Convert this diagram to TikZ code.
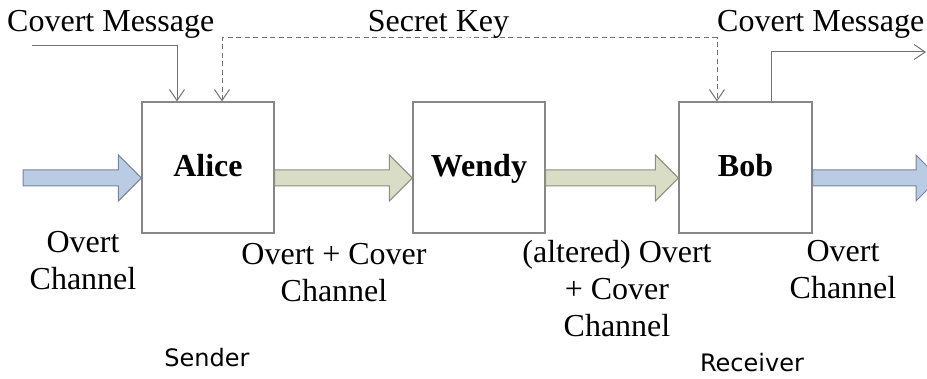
\documentclass[tikz,border=0pt]{standalone}
\usepackage{fontspec}
\setmainfont{Liberation Serif}
\newfontfamily\dejavu{DejaVu Sans}
\usepackage{tikz}
\usetikzlibrary{arrows.meta}
\usetikzlibrary{calc}
\definecolor{boxgray}{RGB}{135,135,135}
\definecolor{linegray}{RGB}{115,115,115}
\definecolor{chanblue}{RGB}{186,204,228}
\definecolor{chanblueb}{RGB}{120,132,155}
\definecolor{changreen}{RGB}{217,221,197}
\definecolor{changreenb}{RGB}{138,143,126}
\tikzset{
  box_n/.style = {draw=boxgray, line width=1.2pt, minimum width=132pt,
    minimum height=131pt, inner sep=0pt, text height=19pt, text depth=0pt,
    font=\fontsize{32}{37}\selectfont\bfseries},% party box
  arr_b/.style = {draw=chanblueb, fill=chanblue, line width=1pt},% overt channel
  arr_g/.style = {draw=changreenb, fill=changreen, line width=1pt},% overt + cover channel
  wire/.style = {draw=linegray, line width=1pt},
  lbl/.style = {inner sep=0pt, align=center,
    font=\fontsize{32}{37}\selectfont},
  lbl_s/.style = {inner sep=0pt, font=\dejavu\fontsize{24}{28}\selectfont}
}
% fat arrow from #1 to #2, running at the height of #1
\newcommand{\blockarrow}[3]{%
  \path[#3] let \p1=(#1), \p2=(#2) in
    (\x1,\y1+8pt) -- (\x2-23pt,\y1+8pt) -- (\x2-23pt,\y1+23pt) -- (\x2,\y1)
    -- (\x2-23pt,\y1-23pt) -- (\x2-23pt,\y1-8pt) -- (\x1,\y1-8pt) -- cycle;
}

\begin{document}
\begin{tikzpicture}[x=1pt,y=-1pt,>={Straight Barb[length=11pt,width=15pt]}]
\useasboundingbox (0,0) rectangle (927,379);
\clip (0,0) rectangle (927,379);

\node [box_n] (alice) at (208,167.5) {Alice};
\node [box_n] (wendy) at (479,167.5) {Wendy};
\node [box_n, minimum width=133pt] (bob) at (745.5,167.5) {Bob};

% channels
\coordinate (in_l) at (23,178);
\coordinate (out_r) at (939,178);
\blockarrow{in_l}{alice.west}{arr_b}
\blockarrow{[yshift=-10.5pt]alice.east}{wendy.west}{arr_g}
\blockarrow{[yshift=-10.5pt]wendy.east}{bob.west}{arr_g}
\blockarrow{[yshift=-10.5pt]bob.east}{out_r}{arr_b}

% covert message in and out, shared key
\coordinate (msg_in) at (32,46);
\coordinate (msg_out) at (926,52);
\coordinate (key) at (470,38);
\draw [wire,->] (msg_in) -| ([xshift=-31pt]alice.north);
\draw [wire,<->,dash pattern=on 5pt off 3.5pt]
  ([xshift=14pt]alice.north) |- (key) -| ([xshift=-28.5pt]bob.north);
\draw [wire,->] ([xshift=25.5pt]bob.north) |- (msg_out);

\node [lbl, anchor=base west] (t_msg_in) at (7,32) {Covert Message};
\node [lbl, anchor=base] (t_key) at (438.5,32) {Secret Key};
\node [lbl, anchor=base west] (t_msg_out) at (717,32) {Covert Message};
\node [lbl, anchor=north] (t_ch_l) at (83,231) {Overt\\Channel};
\node [lbl, anchor=north] (t_ch_aw) at (334,243) {Overt + Cover\\Channel};
\node [lbl, anchor=north] (t_ch_wb) at (617,240) {(altered) Overt\\+ Cover\\Channel};
\node [lbl, anchor=north] (t_ch_r) at (843,240) {Overt\\Channel};
\node [lbl_s, anchor=base] (t_send) at (207,367) {Sender};
\node [lbl_s, anchor=base] (t_recv) at (752,372) {Receiver};
\end{tikzpicture}
\end{document}
